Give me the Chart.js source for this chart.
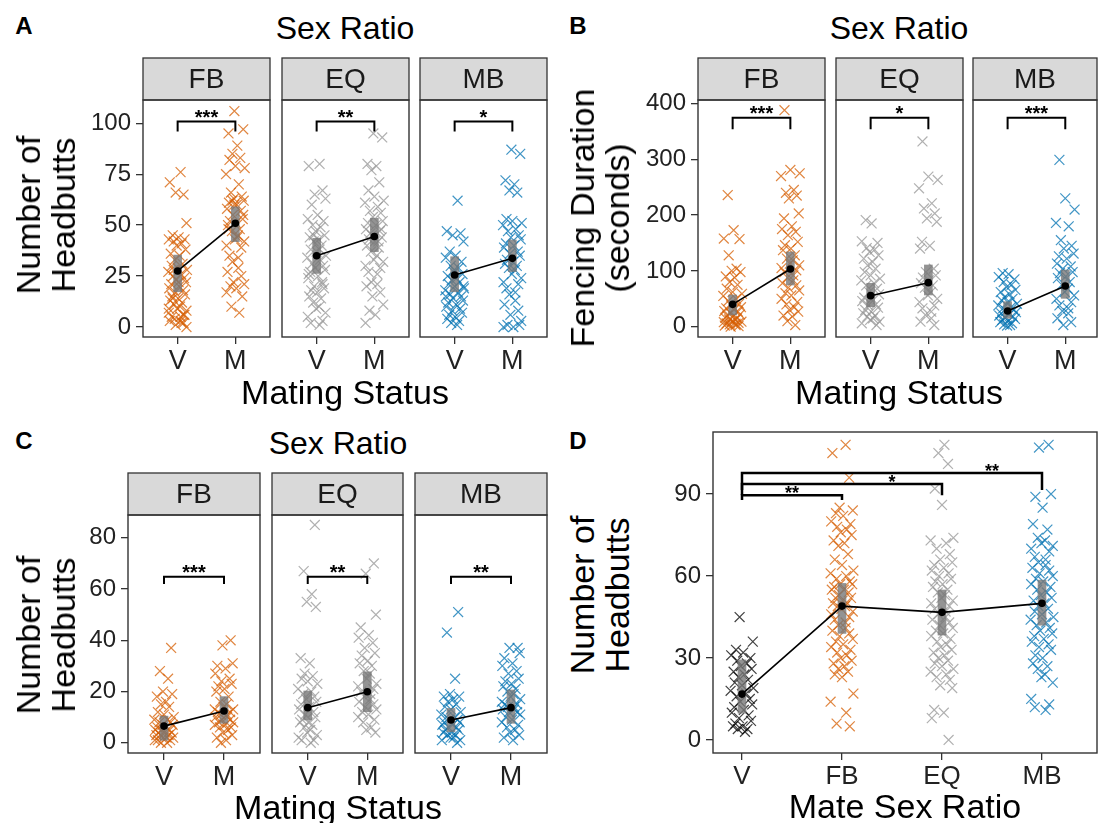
<!DOCTYPE html>
<html>
<head>
<meta charset="utf-8">
<script src="https://cdn.jsdelivr.net/npm/chart.js@4.4.0/dist/chart.umd.min.js"></script>
<style>
body{margin:0;background:#fff;width:1098px;height:823px;position:relative;overflow:hidden;font-family:'Liberation Sans',Arial,sans-serif;color:#000}
.box{position:absolute}
.txt{position:absolute;white-space:nowrap;transform:translate(-50%,-50%);line-height:1}
.rot{position:absolute;white-space:nowrap;text-align:center;transform:translate(-50%,-50%) rotate(-90deg);line-height:35px}
</style>
</head>
<body>
<script>
// categories
var matingStatus = ['V', 'M'];
var ratios = ['FB', 'EQ', 'MB'];
var mateRatio = ['V', 'FB', 'EQ', 'MB'];

// A: headbutts by mating status
var aFbV = [76,71,65,66,51,45,44,43,43,42,41,40,38,36,35,33,31,30,29,28,27,26,25,24,23,22,21,20,19,18,17,16,15,14,13,12,11,10,9,8,7,6,5,5,4,3,3,2,1,0,14,22,9,6,28,2];
var aFbM = [106,97,95,89,85,83,82,79,78,75,70,66,64,63,62,61,60,58,57,55,53,52,51,50,48,47,45,43,42,40,39,35,34,32,29,27,25,22,21,20,19,17,15,10,7,60,55,48,44,62];
var aEqV = [80,79,67,65,63,60,55,53,52,50,49,47,45,44,43,42,40,38,37,35,34,33,31,30,29,28,27,25,24,22,20,19,18,17,15,14,12,10,9,7,5,3,2,1,45,38,26,21];
var aEqM = [95,93,80,79,77,71,67,64,62,61,59,57,56,54,52,51,50,48,47,45,44,43,42,40,39,37,35,33,32,30,29,27,26,22,21,20,17,15,11,8,6,2,48,46,42];
var aMbV = [62,47,46,45,42,37,35,34,32,30,29,27,26,25,24,23,22,21,20,19,18,17,16,15,14,13,12,11,10,9,8,7,6,5,4,3,2,1,28,20,15];
var aMbM = [87,85,72,70,67,66,53,52,51,50,48,47,45,44,43,41,40,39,37,36,35,33,32,31,30,29,28,26,24,22,21,19,17,16,13,11,8,6,3,1,0,0,1];
var aMean = [[27.5,50.9],[35,44.4],[25.5,33.7]];
var aLo = [[17.3,41.9],[26.3,37],[17.3,27.2]];
var aHi = [[35.3,59],[43.5,53.4],[34.5,42.7]];
var aStars = ['***','**','*'];

// B: fencing duration (seconds)
var bFbV = [236,173,158,157,128,104,100,98,90,88,80,75,68,62,59,55,50,46,41,38,35,33,30,28,27,25,22,20,18,16,15,13,12,10,9,8,7,6,5,4,3,2,1,0];
var bFbM = [388,281,275,270,245,240,235,230,203,194,180,175,170,164,152,146,140,137,128,122,119,113,110,105,101,98,92,88,83,78,74,70,65,60,56,50,44,40,35,30,27,20,18,10,3];
var bEqV = [191,185,153,150,141,138,134,128,122,116,110,104,98,92,86,83,78,74,68,62,58,52,50,46,40,38,34,30,27,24,20,18,15,12,9,6,3];
var bEqM = [332,269,263,248,221,212,203,194,188,152,145,140,104,98,92,88,83,78,74,70,62,56,50,44,38,33,27,21,15,9,3];
var bMbV = [96,94,89,85,80,75,71,66,62,58,53,50,47,44,41,38,35,33,30,28,26,24,22,20,18,16,14,12,10,8,6,4,3,2];
var bMbM = [299,230,210,186,180,155,145,140,131,126,122,113,108,104,98,96,90,87,80,75,68,62,56,50,44,38,33,28,24,15,8,3];
var bMean = [[40,103.4],[55.6,78.9],[28,73]];
var bLo = [[21,74.7],[35.8,56.8],[15,50.8]];
var bHi = [[56.8,134],[77.8,110.6],[44.8,101.6]];
var bStars = ['***','*','***'];

// C: headbutts (second trial)
var cFbV = [37,28,25,20,19,18,16,15,14,12,11,10,9,9,8,8,7,7,6,6,5,5,5,4,4,4,3,3,3,2,2,2,1,1,1,0,0];
var cFbM = [40,38,31,30,29,27,25,24,23,22,21,20,18,16,15,14,13,13,12,12,11,11,10,10,9,9,8,8,7,7,6,6,5,4,3,2,1,0];
var cEqV = [85,67,58,55,53,33,31,27,26,25,24,23,21,20,19,18,17,16,15,14,13,12,11,10,9,8,8,7,6,5,4,3,2,1,1,0];
var cEqM = [70,66,50,45,42,41,39,37,35,34,32,31,30,28,27,25,23,22,21,20,19,18,17,16,15,14,13,12,11,10,9,8,6,5,4];
var cMbV = [51,43,25,19,18,18,17,16,15,14,13,12,11,10,10,9,9,8,8,7,7,6,6,5,5,4,4,3,3,2,2,1,1,0];
var cMbM = [37,37,35,33,31,30,28,27,25,24,23,22,21,20,19,18,17,16,15,15,14,14,13,13,12,12,11,10,9,8,7,6,5,4,3,2,1];
var cMean = [[6.5,12.4],[13.7,19.9],[8.9,13.7]];
var cLo = [[1,7.6],[8.9,12.1],[4.3,7.6]];
var cHi = [[10.4,18],[20.2,27.7],[13.4,20.6]];
var cStars = ['***','**','**'];

// D: headbutts by mate sex ratio
var dV = [45,36,33,32,31,30,29,28,27,26,25,24,23,22,21,20,19,18,17,16,15,14,13,12,11,10,9,8,7,6,5,5,4,4,3];
var dFB = [108,105,96,85,84,83,82,80,79,78,77,76,75,73,72,71,68,66,64,62,61,60,59,58,57,57,56,55,55,54,53,52,52,51,50,50,49,49,48,47,46,45,44,43,42,41,40,39,38,37,36,35,34,33,32,31,30,29,28,27,26,25,24,23,17,14,10,6,5];
var dEQ = [108,105,101,92,86,74,73,72,70,68,66,65,64,63,62,61,60,59,58,57,56,55,54,53,52,51,50,49,48,47,46,45,44,43,42,41,40,39,38,37,36,35,34,33,32,31,30,29,28,27,26,25,24,23,22,20,19,11,10,8,0];
var dMB = [108,107,90,89,85,79,77,74,73,72,71,70,69,67,66,65,64,63,62,61,60,59,58,57,56,55,54,53,52,51,50,49,48,47,46,45,44,43,42,41,40,39,38,37,36,35,34,33,31,30,28,27,26,24,23,21,15,13,12,11];
var dMean = [16.8,49,46.7,50];
var dLo = [9.8,39,38.4,42];
var dHi = [29.3,57.3,54.9,58.5];
var dStars = ['**','*','**'];

// hand-typed jitter offsets (fraction of the jitter width)
var JITTER = [0.3,-0.8,0.6,-0.2,0.9,-0.5,0.1,-0.9,0.7,-0.4,0.4,-0.1,0.8,-0.7,0.2,-0.3,0.5,-0.6,0.0,0.95,-0.95,0.35,-0.45,0.65,-0.15,0.85,-0.65,0.15,-0.85,0.55,-0.25,0.75,-0.55,0.05,-0.75,0.45,-0.35,0.25,-0.05,0.9,-0.9,0.6,-0.6,0.3,-0.3];

var FONT = "'Liberation Sans', Arial, sans-serif";
var ORANGE = 'rgba(213,94,0,0.75)';
var GREY = 'rgba(150,150,150,0.75)';
var BLUE = 'rgba(0,114,178,0.75)';
var BLACK = 'rgba(0,0,0,0.75)';
var ratioCol = [ORANGE, GREY, BLUE];

function addText(txt, cx, cy, size, bold) {
  var d = document.createElement('div');
  d.className = 'txt';
  d.textContent = txt;
  d.style.left = cx + 'px';
  d.style.top = cy + 'px';
  d.style.fontSize = size + 'px';
  if (bold) d.style.fontWeight = 'bold';
  document.body.appendChild(d);
}

function addRot(lines, cx, cy, size) {
  var d = document.createElement('div');
  d.className = 'rot';
  d.innerHTML = lines.join('<br>');
  d.style.left = cx + 'px';
  d.style.top = cy + 'px';
  d.style.fontSize = size + 'px';
  document.body.appendChild(d);
}

function noPad(s) {
  s.paddingLeft = 0; s.paddingRight = 0; s.paddingTop = 0; s.paddingBottom = 0;
}

function makePanel(p) {
  var extraL = p.showY ? 70 : 4;
  var cl = p.left - extraL, ct = p.top - p.stripH - 4;
  var box = document.createElement('div');
  box.className = 'box';
  box.style.left = cl + 'px';
  box.style.top = ct + 'px';
  box.style.width = (p.right + 4 - cl) + 'px';
  box.style.height = (p.bottom + 44 - ct) + 'px';
  var cv = document.createElement('canvas');
  box.appendChild(cv);
  document.body.appendChild(box);

  var ds = [];
  p.groups.forEach(function(g, gi) {
    ds.push({
      type: 'scatter',
      data: g.ys.map(function(y, i) {
        return {x: gi + 1 + JITTER[(i + g.shift) % JITTER.length] * p.jw, y: y};
      }),
      pointStyle: 'crossRot', pointRadius: 7, pointBorderWidth: 1.2,
      pointBorderColor: g.color, pointBackgroundColor: 'transparent',
      order: 3
    });
  });
  ds.push({
    type: 'bar',
    data: p.lo.map(function(l, i) { return {x: i + 1, y: [l, p.hi[i]]}; }),
    backgroundColor: 'rgba(120,120,120,0.8)', barThickness: 8, grouped: false,
    order: 2
  });
  ds.push({
    type: 'line',
    data: p.mean.map(function(m, i) { return {x: i + 1, y: m}; }),
    borderColor: '#000', borderWidth: 1.6, pointRadius: 3,
    pointBackgroundColor: '#000', pointBorderColor: '#000',
    order: 1
  });

  var deco = {
    id: 'deco',
    beforeDraw: function(chart) {
      var c = chart.ctx, a = chart.chartArea;
      if (!p.strip) return;
      c.save();
      c.fillStyle = '#d9d9d9';
      c.fillRect(a.left, a.top - p.stripH, a.right - a.left, p.stripH);
      c.strokeStyle = '#333';
      c.lineWidth = 1.3;
      c.strokeRect(a.left, a.top - p.stripH, a.right - a.left, p.stripH);
      c.fillStyle = '#1a1a1a';
      c.font = '28px ' + FONT;
      c.textAlign = 'center';
      c.textBaseline = 'middle';
      c.fillText(p.strip, (a.left + a.right) / 2, a.top - p.stripH / 2 + 1);
      c.restore();
    },
    afterDatasetsDraw: function(chart) {
      var c = chart.ctx, a = chart.chartArea, xs = chart.scales.x, ys = chart.scales.y;
      c.save();
      p.brackets.forEach(function(b) {
        var x1 = xs.getPixelForValue(b.from), x2 = xs.getPixelForValue(b.to);
        var y = ys.getPixelForValue(b.y), yl = ys.getPixelForValue(b.leg);
        c.beginPath();
        c.moveTo(x1, yl); c.lineTo(x1, y); c.lineTo(x2, y); c.lineTo(x2, yl);
        c.strokeStyle = '#000';
        c.lineWidth = p.bw;
        c.stroke();
        c.fillStyle = '#000';
        c.font = 'bold ' + p.starSize + 'px ' + FONT;
        c.textAlign = 'center';
        c.textBaseline = 'alphabetic';
        var lx = b.labelX !== undefined ? xs.getPixelForValue(b.labelX) : (x1 + x2) / 2;
        c.fillText(b.label, lx, y + p.starDy);
      });
      c.strokeStyle = '#333';
      c.lineWidth = 1.4;
      c.strokeRect(a.left, a.top, a.right - a.left, a.bottom - a.top);
      c.restore();
    }
  };

  new Chart(cv, {
    type: 'scatter',
    data: {datasets: ds},
    plugins: [deco],
    options: {
      responsive: true, maintainAspectRatio: false, animation: false, events: [],
      layout: {autoPadding: false, padding: {left: p.showY ? 0 : 4, top: p.stripH + 4, right: 4, bottom: 0}},
      plugins: {legend: {display: false}, tooltip: {enabled: false}},
      scales: {
        x: {
          type: 'linear', min: p.xmin, max: p.xmax, offset: false,
          afterBuildTicks: function(s) { s.ticks = p.xLabels.map(function(l, i) { return {value: i + 1}; }); },
          afterFit: function(s) { s.height = 44; noPad(s); },
          ticks: {autoSkip: false, maxRotation: 0, padding: 1, color: '#222', font: {family: FONT, size: p.xFont},
            callback: function(v, i) { return p.xLabels[i]; }},
          grid: {drawOnChartArea: false, offset: false, tickLength: 7, color: '#333', lineWidth: 1.3},
          border: {display: false}
        },
        y: {
          type: 'linear', display: p.showY, min: p.ymin, max: p.ymax,
          afterBuildTicks: function(s) { s.ticks = p.yTicks.map(function(v) { return {value: v}; }); },
          afterFit: function(s) { if (p.showY) s.width = 70; noPad(s); },
          ticks: {padding: 5, color: '#222', font: {family: FONT, size: 24}},
          grid: {drawOnChartArea: false, offset: false, tickLength: 7, color: '#333', lineWidth: 1.3},
          border: {display: false}
        }
      }
    }
  });
}

// facet layouts (page pixels)
var facetA = [[143,270],[282,409],[420,547]];
var facetB = [[698,825],[836,963],[973,1097]];
var facetC = [[128,260],[272,403],[415,547]];
var xmaxB = [2.6, 2.6, 2.55];

var setsA = [[aFbV,aFbM],[aEqV,aEqM],[aMbV,aMbM]];
var setsB = [[bFbV,bFbM],[bEqV,bEqM],[bMbV,bMbM]];
var setsC = [[cFbV,cFbM],[cEqV,cEqM],[cMbV,cMbM]];

ratios.forEach(function(r, k) {
  makePanel({
    left: facetA[k][0], right: facetA[k][1], top: 100, bottom: 337, stripH: 42, strip: r,
    showY: k === 0, yTicks: [0,25,50,75,100], ymin: -4.9, ymax: 111.4, xmin: 0.4, xmax: 2.6,
    xLabels: matingStatus, xFont: 27, jw: 0.17,
    groups: [{ys: setsA[k][0], color: ratioCol[k], shift: 0}, {ys: setsA[k][1], color: ratioCol[k], shift: 11}],
    mean: aMean[k], lo: aLo[k], hi: aHi[k],
    brackets: [{from: 1, to: 2, y: 100.8, leg: 95.9, label: aStars[k]}], bw: 2, starSize: 20, starDy: 2
  });
  makePanel({
    left: facetB[k][0], right: facetB[k][1], top: 100, bottom: 337, stripH: 42, strip: r,
    showY: k === 0, yTicks: [0,100,200,300,400], ymin: -18.5, ymax: 406.3, xmin: 0.4, xmax: xmaxB[k],
    xLabels: matingStatus, xFont: 27, jw: 0.17,
    groups: [{ys: setsB[k][0], color: ratioCol[k], shift: 5}, {ys: setsB[k][1], color: ratioCol[k], shift: 17}],
    mean: bMean[k], lo: bLo[k], hi: bHi[k],
    brackets: [{from: 1, to: 2, y: 374.5, leg: 354, label: bStars[k]}], bw: 2, starSize: 20, starDy: 2
  });
  makePanel({
    left: facetC[k][0], right: facetC[k][1], top: 515, bottom: 753, stripH: 42, strip: r,
    showY: k === 0, yTicks: [0,20,40,60,80], ymin: -4.0, ymax: 88.9, xmin: 0.4, xmax: 2.6,
    xLabels: matingStatus, xFont: 27, jw: 0.17,
    groups: [{ys: setsC[k][0], color: ratioCol[k], shift: 8}, {ys: setsC[k][1], color: ratioCol[k], shift: 23}],
    mean: cMean[k], lo: cLo[k], hi: cHi[k],
    brackets: [{from: 1, to: 2, y: 64.8, leg: 62, label: cStars[k]}], bw: 2, starSize: 20, starDy: 2
  });
});

makePanel({
  left: 713, right: 1097, top: 432, bottom: 753, stripH: 0, strip: null,
  showY: true, yTicks: [0,30,60,90], ymin: -4.76, ymax: 112.7, xmin: 0.71, xmax: 4.55,
  xLabels: mateRatio, xFont: 26, jw: 0.12,
  groups: [{ys: dV, color: BLACK, shift: 3}, {ys: dFB, color: ORANGE, shift: 0}, {ys: dEQ, color: GREY, shift: 14}, {ys: dMB, color: BLUE, shift: 29}],
  mean: dMean, lo: dLo, hi: dHi,
  brackets: [
    {from: 1, to: 4, y: 97.7, leg: 91.5, label: dStars[2], labelX: 3.5},
    {from: 1, to: 3, y: 93.7, leg: 89.6, label: dStars[1], labelX: 2.5},
    {from: 1, to: 2, y: 89.6, leg: 87.8, label: dStars[0], labelX: 1.5}
  ], bw: 2.5, starSize: 18, starDy: 4
});

// text: panel letters, titles, axis titles
addText('A', 24, 26, 24, true);
addText('B', 578, 26, 24, true);
addText('C', 24, 441, 24, true);
addText('D', 578, 441, 24, true);
addText('Sex Ratio', 345, 28, 32);
addText('Sex Ratio', 899, 28, 32);
addText('Sex Ratio', 338, 443, 32);
addText('Mating Status', 345, 392, 34);
addText('Mating Status', 899, 392, 34);
addText('Mating Status', 338, 807, 34);
addText('Mate Sex Ratio', 905, 806, 34);
addRot(['Number of', 'Headbutts'], 46, 215, 34);
addRot(['Fencing Duration', '(seconds)'], 600, 218, 34);
addRot(['Number of', 'Headbutts'], 46, 635, 34);
addRot(['Number of', 'Headbutts'], 600, 595, 34);
</script>
</body>
</html>
